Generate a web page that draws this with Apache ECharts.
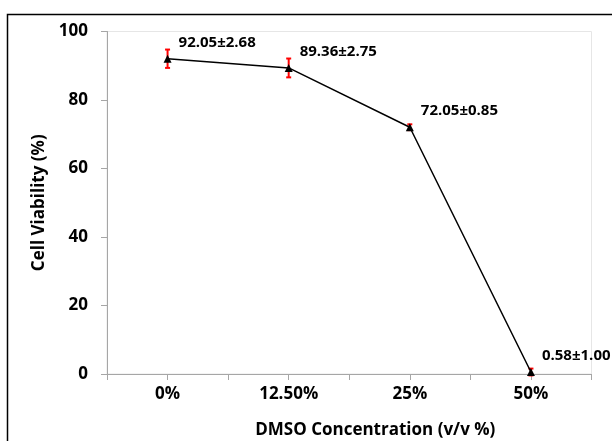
<!DOCTYPE html>
<html>
<head>
<meta charset="utf-8">
<script src="https://cdn.jsdelivr.net/npm/echarts@6/dist/echarts.min.js"></script>
<style>
  html, body { margin: 0; padding: 0; background: #fff; }
  #chart { width: 612px; height: 441px; }
</style>
</head>
<body>
<div id="chart"></div>
<script>
// DMSO concentration vs cell viability, mean ± SD
const categories = ['0%', '12.50%', '25%', '50%'];
const viability = [92.05, 89.36, 72.05, 0.58];
const sd = [2.68, 2.75, 0.85, 1.00];
const labelTexts = ['92.05±2.68', '89.36±2.75', '72.05±0.85', '0.58±1.00'];

const FONT = '"Open Sans", Lato, sans-serif';

const chart = echarts.init(document.getElementById('chart'));

const lineData = viability.map((v, i) => [i, v]);
const errData = viability.map((v, i) => [i, v - sd[i], v + sd[i]]);

chart.setOption({
  animation: false,
  textStyle: { fontFamily: FONT },
  graphic: [{
    type: 'rect',
    shape: { x: 7.5, y: 14.5, width: 700, height: 600 },
    style: { fill: 'none', stroke: '#000', lineWidth: 1.5 },
    silent: true
  }],
  grid: {
    left: 107, right: 20.5, top: 31.5, bottom: 67,
    outerBoundsMode: 'none',
    show: true, borderColor: '#e6e6e6', borderWidth: 1
  },
  xAxis: {
    type: 'value',
    min: -0.5, max: 3.5, interval: 0.5,
    name: 'DMSO Concentration (v/v %)',
    nameLocation: 'middle',
    nameGap: 48,
    // title sits a little right of the plot centre in the original
    nameTextStyle: { fontSize: 17, fontWeight: 'bold', color: '#000', fontFamily: FONT, padding: [0, 0, 0, 52] },
    axisLine: { onZero: false, lineStyle: { color: '#a6a6a6', width: 1 } },
    axisTick: { show: true, length: 6, lineStyle: { color: '#a6a6a6' } },
    splitLine: { show: false },
    axisLabel: {
      margin: 12,
      fontSize: 17, fontWeight: 'bold', color: '#000', fontFamily: FONT,
      formatter: v => Number.isInteger(v) && categories[v] !== undefined ? categories[v] : ''
    }
  },
  yAxis: {
    type: 'value',
    min: 0, max: 100, interval: 20,
    name: 'Cell Viability (%)',
    nameLocation: 'middle',
    nameGap: 51,
    nameTextStyle: { fontSize: 17, fontWeight: 'bold', color: '#000', fontFamily: FONT },
    axisLine: { show: true, onZero: false, lineStyle: { color: '#a6a6a6', width: 1 } },
    axisTick: { show: true, length: 6, lineStyle: { color: '#a6a6a6' } },
    splitLine: { show: false },
    axisLabel: { margin: 19, fontSize: 17, fontWeight: 'bold', color: '#000', fontFamily: FONT }
  },
  series: [
    {
      type: 'custom',
      z: 1,
      data: errData,
      renderItem(params, api) {
        const x = api.value(0);
        const lo = api.coord([x, api.value(1)]);
        const hi = api.coord([x, api.value(2)]);
        const cap = 2.5;
        const st = { stroke: '#ff0000', lineWidth: 2 };
        return {
          type: 'group',
          children: [
            { type: 'line', shape: { x1: lo[0], y1: lo[1], x2: hi[0], y2: hi[1] }, style: st },
            { type: 'line', shape: { x1: lo[0] - cap, y1: lo[1], x2: lo[0] + cap, y2: lo[1] }, style: st },
            { type: 'line', shape: { x1: hi[0] - cap, y1: hi[1], x2: hi[0] + cap, y2: hi[1] }, style: st }
          ]
        };
      }
    },
    {
      type: 'line',
      z: 3,
      data: lineData,
      symbol: 'triangle',
      symbolSize: 8,
      itemStyle: { color: '#000' },
      lineStyle: { color: '#000', width: 1.5 },
      label: {
        show: true,
        position: 'right',
        distance: 7,
        offset: [0, -16],
        fontSize: 15, fontWeight: 'bold', color: '#000', fontFamily: FONT,
        formatter: p => labelTexts[p.dataIndex]
      }
    }
  ]
});
</script>
</body>
</html>
